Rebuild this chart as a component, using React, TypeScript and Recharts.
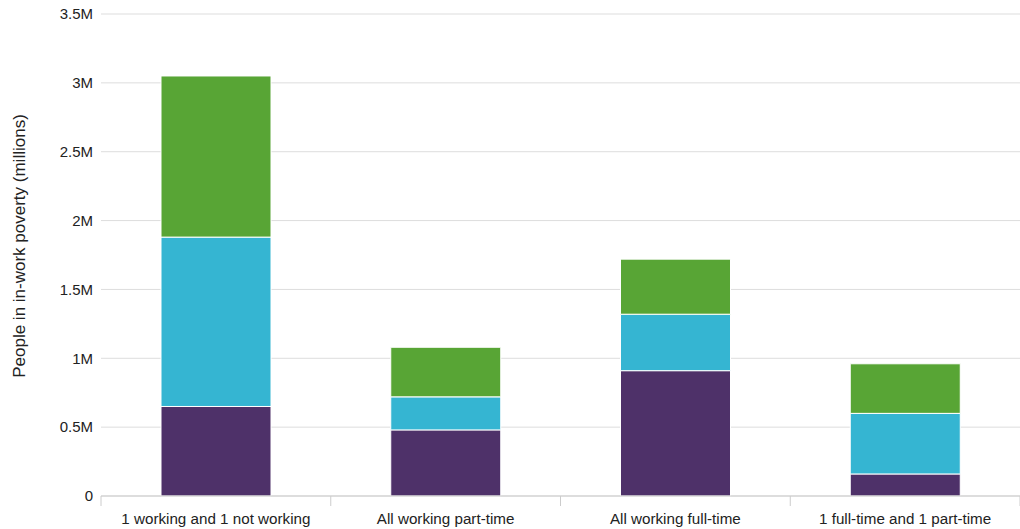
import { BarChart, Bar, XAxis, YAxis, CartesianGrid } from 'recharts';

// household work pattern categories
const categories = [
  '1 working and 1 not working',
  'All working part-time',
  'All working full-time',
  '1 full-time and 1 part-time',
];

// stacked segments, millions of people (bottom to top)
const purpleSeries = [0.65, 0.48, 0.91, 0.16];
const blueSeries = [1.23, 0.24, 0.41, 0.44];
const greenSeries = [1.17, 0.36, 0.4, 0.36];

const yTicks = [0, 0.5, 1, 1.5, 2, 2.5, 3, 3.5];
const yTickLabels = ['0', '0.5M', '1M', '1.5M', '2M', '2.5M', '3M', '3.5M'];

const chartData = categories.map((name, i) => ({
  name,
  purple: purpleSeries[i],
  blue: blueSeries[i],
  green: greenSeries[i],
}));

const W = 1020;
const H = 529;
const LEFT = 101;
const BAND = (W - LEFT) / categories.length;
const FONT = 'Liberation Sans, Arial, sans-serif';

const CategoryTick = (props: any) => {
  const { x, y, payload, index } = props;
  const left = x - BAND / 2;
  return (
    <g>
      <line x1={left} y1={y - 8} x2={left} y2={y + 2} stroke="#ccc" />
      {index === categories.length - 1 && (
        <line x1={left + BAND} y1={y - 8} x2={left + BAND} y2={y + 2} stroke="#ccc" />
      )}
      <text x={x} y={y + 20} textAnchor="middle" fill="#222" fontSize={15.2} fontFamily={FONT}>
        {payload.value}
      </text>
    </g>
  );
};

const AxisTitle = () => (
  <text
    x={25}
    y={246}
    transform="rotate(-90, 25, 246)"
    textAnchor="middle"
    fill="#222"
    fontSize={17}
    fontFamily={FONT}
  >
    People in in-work poverty (millions)
  </text>
);

export default function App() {
  return (
    <div style={{ position: 'absolute', left: 0, top: 0, width: W, height: H, background: '#fff' }}>
      <BarChart width={W} height={H} data={chartData} margin={{ top: 14, right: 0, left: 0, bottom: 0 }}>
        <CartesianGrid vertical={false} stroke="#ddd" />
        <XAxis
          dataKey="name"
          height={33}
          axisLine={{ stroke: '#ccc' }}
          tickLine={false}
          tick={<CategoryTick />}
          interval={0}
        />
        <YAxis
          width={LEFT}
          domain={[0, 3.5]}
          ticks={yTicks}
          tickFormatter={(v: number) => yTickLabels[yTicks.indexOf(v)]}
          axisLine={false}
          tickLine={false}
          tickMargin={2}
          tick={{ fill: '#222', fontSize: 15, fontFamily: FONT }}
          label={<AxisTitle />}
        />
        <Bar dataKey="purple" stackId="a" fill="#4e3169" stroke="#fff" strokeWidth={1} barSize={110} isAnimationActive={false} />
        <Bar dataKey="blue" stackId="a" fill="#35b5d2" stroke="#fff" strokeWidth={1} barSize={110} isAnimationActive={false} />
        <Bar dataKey="green" stackId="a" fill="#58a535" stroke="#fff" strokeWidth={1} barSize={110} isAnimationActive={false} />
      </BarChart>
    </div>
  );
}
